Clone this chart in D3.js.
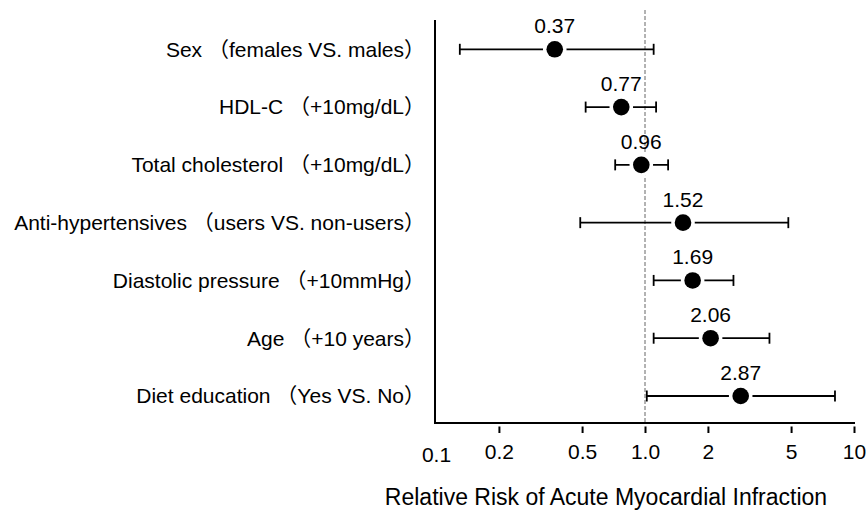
<!DOCTYPE html>
<html>
<head>
<meta charset="utf-8">
<script src="https://cdn.jsdelivr.net/npm/d3@7"></script>
<style>
  html, body { margin: 0; padding: 0; background: #fff; }
  svg { display: block; }
  text { font-family: "Liberation Sans", Arial, "Noto Sans CJK JP", sans-serif; fill: #000; }
</style>
</head>
<body>
<script>
// Risk factors, top to bottom
const factors = [
  "Sex （females VS. males）",
  "HDL-C （+10mg/dL）",
  "Total cholesterol （+10mg/dL）",
  "Anti-hypertensives （users VS. non-users）",
  "Diastolic pressure （+10mmHg）",
  "Age （+10 years）",
  "Diet education （Yes VS. No）"
];
// Relative risk point estimates and confidence limits
const relRisk = [0.37, 0.77, 0.96, 1.52, 1.69, 2.06, 2.87];
const ciLower = [0.13, 0.52, 0.72, 0.49, 1.10, 1.10, 1.02];
const ciUpper = [1.10, 1.13, 1.29, 4.85, 2.65, 3.94, 8.11];
// X-axis ticks
const tickValues = [0.1, 0.2, 0.5, 1, 2, 5, 10];
const tickLabels = ["0.1", "0.2", "0.5", "1.0", "2", "5", "10"];
const axisTitle = "Relative Risk of Acute Myocardial Infraction";

const W = 866, H = 511;
const axisY = 423, axisX = 435;

const svg = d3.select("body").append("svg").attr("width", W).attr("height", H);

const x = d3.scaleLog().domain([0.1, 10]).range([436, 854]);
const y = d3.scalePoint().domain(factors).range([49.3, 396]);

const rows = factors.map((f, i) => ({ f, rr: relRisk[i], lo: ciLower[i], hi: ciUpper[i] }));

// Reference line at RR = 1
svg.append("line")
  .attr("x1", x(1)).attr("x2", x(1))
  .attr("y1", 10).attr("y2", axisY)
  .attr("stroke", "#666").attr("stroke-width", 1)
  .attr("stroke-dasharray", "4,2");

// Factor labels
svg.append("g").selectAll("text").data(rows).join("text")
  .attr("x", 425).attr("y", d => y(d.f)).attr("dy", "0.35em")
  .attr("text-anchor", "end").attr("font-size", 21)
  .text(d => d.f);

// Confidence intervals
const ci = svg.append("g").attr("stroke", "#000").attr("stroke-width", 1.8);
ci.selectAll("line.bar").data(rows).join("line").attr("class", "bar")
  .attr("x1", d => x(d.lo)).attr("x2", d => x(d.hi))
  .attr("y1", d => y(d.f)).attr("y2", d => y(d.f));
ci.selectAll("line.capl").data(rows).join("line").attr("class", "capl")
  .attr("x1", d => x(d.lo)).attr("x2", d => x(d.lo))
  .attr("y1", d => y(d.f) - 5.5).attr("y2", d => y(d.f) + 5.5);
ci.selectAll("line.caph").data(rows).join("line").attr("class", "caph")
  .attr("x1", d => x(d.hi)).attr("x2", d => x(d.hi))
  .attr("y1", d => y(d.f) - 5.5).attr("y2", d => y(d.f) + 5.5);

// Point estimates
svg.append("g").selectAll("circle").data(rows).join("circle")
  .attr("cx", d => x(d.rr)).attr("cy", d => y(d.f)).attr("r", 8.3)
  .attr("fill", "#000").attr("stroke", "#fff").attr("stroke-width", 7)
  .attr("paint-order", "stroke");

// Value labels
svg.append("g").selectAll("text").data(rows).join("text")
  .attr("x", d => x(d.rr)).attr("y", d => y(d.f) - 16)
  .attr("text-anchor", "middle").attr("font-size", 21)
  .text(d => d3.format(".2f")(d.rr));

// Axes
svg.append("line")
  .attr("x1", axisX).attr("x2", axisX).attr("y1", 20).attr("y2", axisY + 1)
  .attr("stroke", "#000").attr("stroke-width", 2);
svg.append("line")
  .attr("x1", axisX - 1).attr("x2", 855).attr("y1", axisY).attr("y2", axisY)
  .attr("stroke", "#000").attr("stroke-width", 2);

const xAxis = d3.axisBottom(x)
  .tickValues(tickValues)
  .tickFormat((d, i) => tickLabels[i])
  .tickSizeOuter(0);
const gx = svg.append("g").attr("transform", `translate(0,${axisY})`).call(xAxis);
gx.select(".domain").remove();
gx.selectAll(".tick line")
  .attr("y1", 3.5).attr("y2", 10).attr("stroke", "#000").attr("stroke-width", 2)
  .filter(d => d === 0.1).remove();
gx.selectAll(".tick text")
  .attr("y", d => d === 0.1 ? 39 : 36).attr("dy", null)
  .attr("font-size", 21).attr("font-family", null).attr("fill", "#000");

svg.append("text")
  .attr("x", 606).attr("y", 505)
  .attr("text-anchor", "middle").attr("font-size", 23)
  .text(axisTitle);
</script>
</body>
</html>
